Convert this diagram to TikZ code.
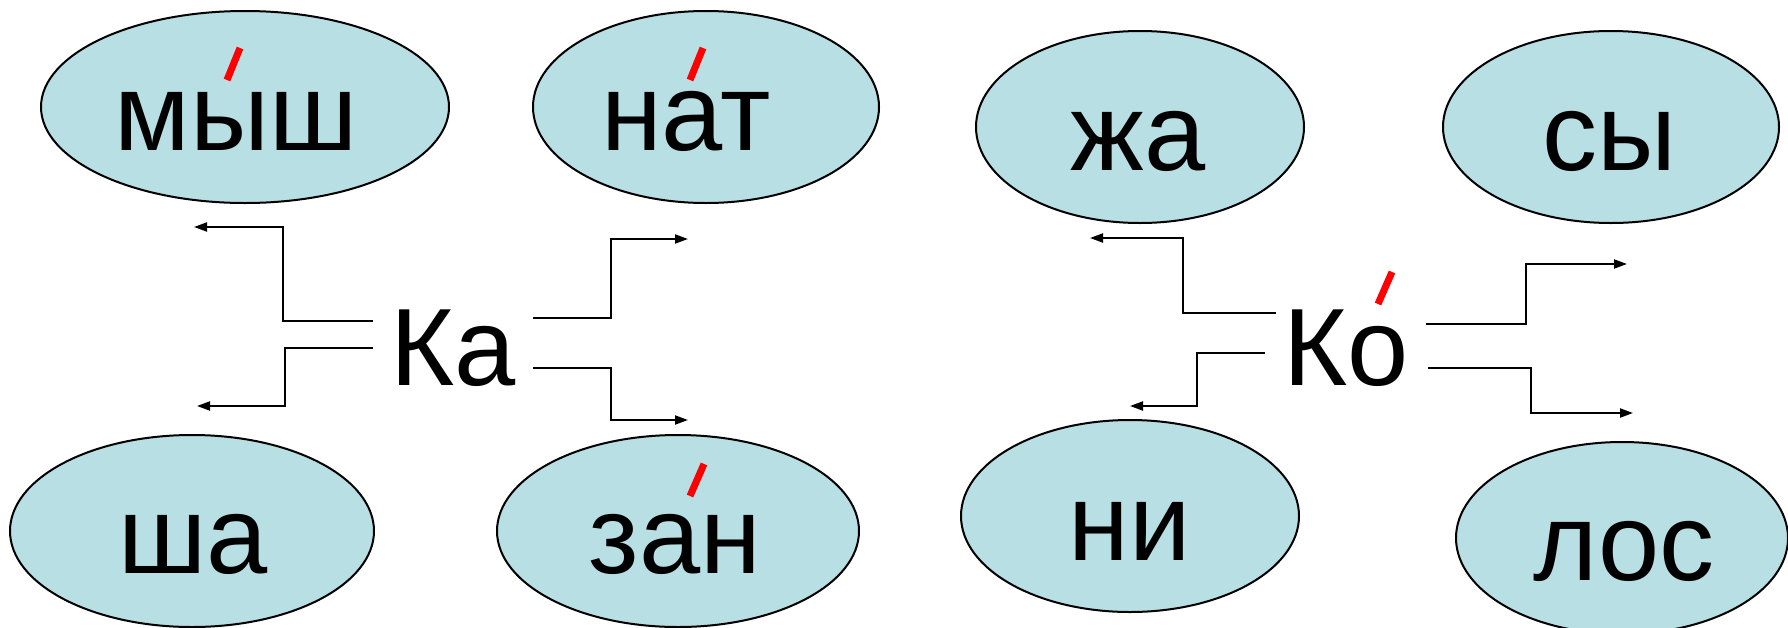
\documentclass[tikz,border=0pt]{standalone}
\usepackage{fontspec}
\setmainfont{Liberation Sans}
\usetikzlibrary{shapes.geometric,arrows.meta}
\definecolor{ovalfill}{RGB}{184,223,227}
\definecolor{accentred}{RGB}{255,0,0}
\tikzset{
  oval/.style={ellipse, draw=black, line width=2pt, fill=ovalfill, inner sep=0pt, outer sep=0pt},
  word/.style={anchor=base, inner sep=0pt, font=\fontsize{110}{120}\selectfont},
  link/.style={draw=black, line width=2pt, -{Triangle[length=13pt,width=9pt]}},
  stress/.style={draw=accentred, line width=7pt}
}
\begin{document}
\begin{tikzpicture}[x=1pt,y=-1pt]
\useasboundingbox (0,0) rectangle (1788,627);
\clip (0,0) rectangle (1788,627);
% ovals
\node[oval, minimum width=408pt, minimum height=192pt] (omysh) at (245,107) {};
\node[oval, minimum width=346pt, minimum height=192pt] (onat) at (706,107) {};
\node[oval, minimum width=328pt, minimum height=192pt] (ozha) at (1140,127) {};
\node[oval, minimum width=336pt, minimum height=192pt] (osy) at (1611,127) {};
\node[oval, minimum width=364pt, minimum height=192pt] (osha) at (192,531) {};
\node[oval, minimum width=362pt, minimum height=192pt] (ozan) at (678,531) {};
\node[oval, minimum width=338pt, minimum height=192pt] (oni) at (1130,516) {};
\node[oval, minimum width=332pt, minimum height=192pt] (olos) at (1622,538) {};
% words
\node[word] (mysh) at (236,150) {мыш};
\node[word] (nat) at (686,150) {нат};
\node[word] (zha) at (1138,170) {жа};
\node[word] (sy) at (1610,170) {сы};
\node[word] (sha) at (193,573) {ша};
\node[word] (zan) at (675,573) {зан};
\node[word] (ni) at (1130,560) {ни};
\node[word] (los) at (1624,580) {лос};
\node[word] (ka) at (453,385) {Ка};
\node[word] (ko) at (1346,385) {Ко};
% stress marks
\draw[stress] (227,80) -- (240,48);
\draw[stress] (690,80) -- (703,48);
\draw[stress] (690,496) -- (704,464);
\draw[stress] (1378,304) -- (1392,272);
% connector ends
\coordinate (kaULs) at (373,321); \coordinate (kaULc) at (283,227); \coordinate (kaULt) at (194,227);
\coordinate (kaLLs) at (373,348); \coordinate (kaLLc) at (285,406); \coordinate (kaLLt) at (197,406);
\coordinate (kaURs) at (533,318); \coordinate (kaURc) at (611,239); \coordinate (kaURt) at (688,239);
\coordinate (kaLRs) at (533,368); \coordinate (kaLRc) at (611,420); \coordinate (kaLRt) at (688,420);
\coordinate (koULs) at (1276,313); \coordinate (koULc) at (1183,238); \coordinate (koULt) at (1090,238);
\coordinate (koLLs) at (1265,353); \coordinate (koLLc) at (1197,406); \coordinate (koLLt) at (1130,406);
\coordinate (koURs) at (1426,324); \coordinate (koURc) at (1526,264); \coordinate (koURt) at (1627,264);
\coordinate (koLRs) at (1428,368); \coordinate (koLRc) at (1531,413); \coordinate (koLRt) at (1633,413);
% connectors
\path[link] (kaULs) -| (kaULc) -- (kaULt);
\path[link] (kaLLs) -| (kaLLc) -- (kaLLt);
\path[link] (kaURs) -| (kaURc) -- (kaURt);
\path[link] (kaLRs) -| (kaLRc) -- (kaLRt);
\path[link] (koULs) -| (koULc) -- (koULt);
\path[link] (koLLs) -| (koLLc) -- (koLLt);
\path[link] (koURs) -| (koURc) -- (koURt);
\path[link] (koLRs) -| (koLRc) -- (koLRt);
\end{tikzpicture}
\end{document}
